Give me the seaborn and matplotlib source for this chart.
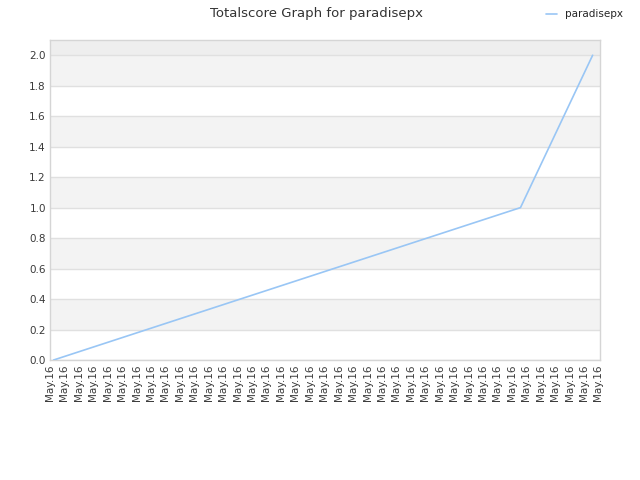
import matplotlib
matplotlib.use("Agg")
import matplotlib.pyplot as plt
import seaborn as sns
import pandas as pd
import numpy as np

# Data
tick_labels = ["May.16"] * 39
x_positions = [0.25, 32.6, 37.6]
scores = [0.0, 1.0, 2.0]
series_name = "paradisepx"
y_ticks = [0.0, 0.2, 0.4, 0.6, 0.8, 1.0, 1.2, 1.4, 1.6, 1.8, 2.0]

df = pd.DataFrame({"x": x_positions, "score": scores, "player": series_name})

sns.set_theme(style="white")
plt.rcParams['font.family'] = ['DejaVu Sans']

fig = plt.figure(figsize=(6.4, 4.8), dpi=100)
ax = fig.add_axes([50/640, 120/480, 550/640, 320/480])

ymax = 2.1
# alternating background bands
for i in range(len(y_ticks) - 1):
    if i % 2 == 1:
        ax.axhspan(y_ticks[i], y_ticks[i+1], color="#f3f3f3", zorder=0, lw=0)
ax.axhspan(2.0, ymax, color="#eeeeee", zorder=0, lw=0)
for yv in y_ticks:
    ax.axhline(yv, color="#e0e0e0", lw=1, zorder=1)

sns.lineplot(data=df, x="x", y="score", hue="player", palette=["#99c6f5"],
             ax=ax, lw=1.2, legend=False, zorder=3)

ax.set_xlim(0.1, 38.11)
ax.set_ylim(0, ymax)
ax.set_xticks(range(len(tick_labels)))
ax.set_xticklabels(tick_labels, rotation=90, fontsize=7.5, color="#3a3a3a")
ax.set_yticks(y_ticks)
ax.set_yticklabels([f"{v:.1f}" for v in y_ticks], fontsize=7.5, color="#3a3a3a")
ax.tick_params(axis="both", length=0, pad=3)
ax.set_xlabel("")
ax.set_ylabel("")
for s in ax.spines.values():
    s.set_color("#d5d5d5")
    s.set_linewidth(1)

fig.suptitle("Totalscore Graph for paradisepx", x=0.495, y=0.985, fontsize=9.5, color="#333333")

from matplotlib.lines import Line2D
handle = Line2D([0], [0], color="#99c6f5", lw=1.2)
fig.legend([handle], [series_name], loc="upper right", bbox_to_anchor=(0.988, 1.0),
           frameon=False, fontsize=7.5, handlelength=1.0, handletextpad=0.8)

fig.savefig("out.png", dpi=100)
